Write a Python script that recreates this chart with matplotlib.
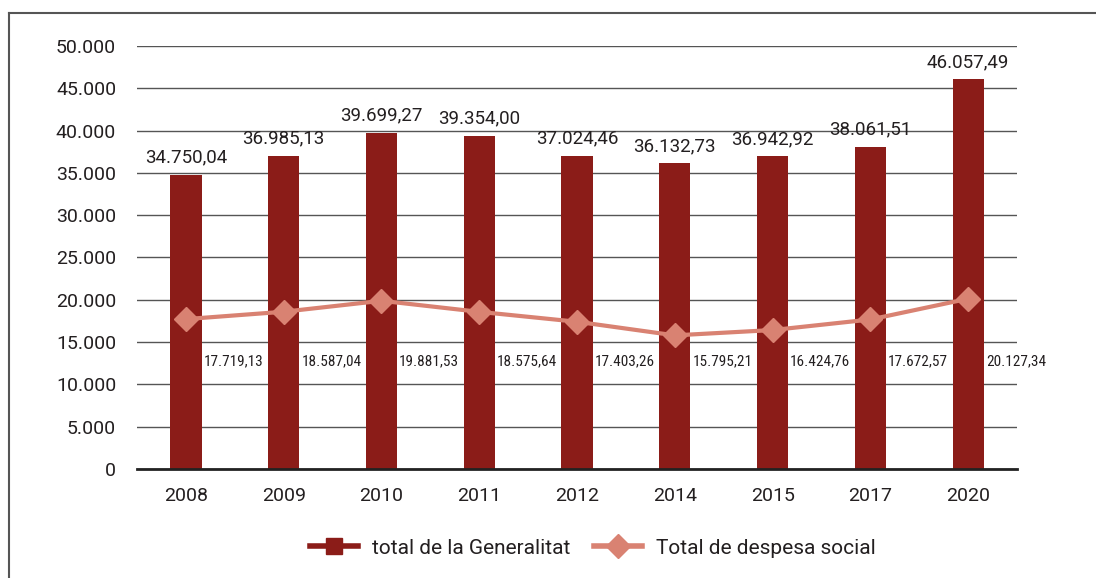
import matplotlib
matplotlib.use("Agg")
import matplotlib.pyplot as plt
from matplotlib import font_manager
from matplotlib.lines import Line2D

# fonts: regular for most text, narrow one for the small line labels
names = {f.name for f in font_manager.fontManager.ttflist}
main_font = "Roboto" if "Roboto" in names else "DejaVu Sans"
narrow_font = "Roboto Condensed" if "Roboto Condensed" in names else main_font
plt.rcParams["font.family"] = main_font

# data
years = ["2008", "2009", "2010", "2011", "2012", "2014", "2015", "2017", "2020"]
total_generalitat = [34750.04, 36985.13, 39699.27, 39354.00, 37024.46,
                     36132.73, 36942.92, 38061.51, 46057.49]
despesa_social = [17719.13, 18587.04, 19881.53, 18575.64, 17403.26,
                  15795.21, 16424.76, 17672.57, 20127.34]

bar_color = "#8b1c18"
line_color = "#d98272"
text_color = "#231f20"


def fmt(v, dec=2):
    s = f"{v:,.{dec}f}"
    return s.replace(",", "X").replace(".", ",").replace("X", ".")


fig = plt.figure(figsize=(10.96, 5.78), dpi=100)
ax = fig.add_axes([0.125, 0.1886, 0.803, 0.7318])

x = range(len(years))
ax.bar(x, total_generalitat, width=0.32, color=bar_color, zorder=2,
       label="total de la Generalitat")
ax.plot(x, despesa_social, color=line_color, lw=3, marker="D", ms=12,
        zorder=3, label="Total de despesa social")

for i, v in enumerate(total_generalitat):
    ax.annotate(fmt(v), (i, v), xytext=(0, 6), textcoords="offset points",
                ha="center", va="bottom", fontsize=13.5, color=text_color)
for i, v in enumerate(despesa_social):
    ax.annotate(fmt(v), (i + 0.18, 12700), ha="left", va="center",
                fontsize=11, family=narrow_font, color=text_color)

ax.set_xlim(-0.5, len(years) - 0.5)
ax.set_ylim(0, 50000)
ax.set_yticks(range(0, 50001, 5000))
ax.set_yticklabels(["0"] + [fmt(t, 0) for t in range(5000, 50001, 5000)])
ax.set_xticks(list(x))
ax.set_xticklabels(years)
ax.tick_params(axis="both", length=0, labelsize=14, colors=text_color)
ax.tick_params(axis="y", pad=15)
ax.tick_params(axis="x", pad=13)
ax.yaxis.grid(True, color="#555555", lw=1, zorder=0)
ax.set_axisbelow(True)
for s in ["top", "right", "left"]:
    ax.spines[s].set_visible(False)
ax.spines["bottom"].set_color("#222222")
ax.spines["bottom"].set_linewidth(2)
ax.spines["bottom"].set_zorder(4)

handles = [
    Line2D([], [], color=bar_color, lw=4, marker="s", ms=12),
    Line2D([], [], color=line_color, lw=4, marker="D", ms=12),
]
fig.legend(handles, ["total de la Generalitat", "Total de despesa social"],
           loc="center", bbox_to_anchor=(0.541, 1 - 548 / 578), ncol=2,
           frameon=False, fontsize=15, handlelength=2.3, handletextpad=0.7,
           columnspacing=1.1, labelcolor=text_color)

# outer frame (only left and top edges are visible)
fig.add_artist(Line2D([9 / 1096, 9 / 1096], [0, 1 - 13 / 578],
                      transform=fig.transFigure, color="#555555", lw=1.5))
fig.add_artist(Line2D([9 / 1096, 1], [1 - 13 / 578, 1 - 13 / 578],
                      transform=fig.transFigure, color="#555555", lw=1.5))

fig.savefig("out.png", dpi=100)
